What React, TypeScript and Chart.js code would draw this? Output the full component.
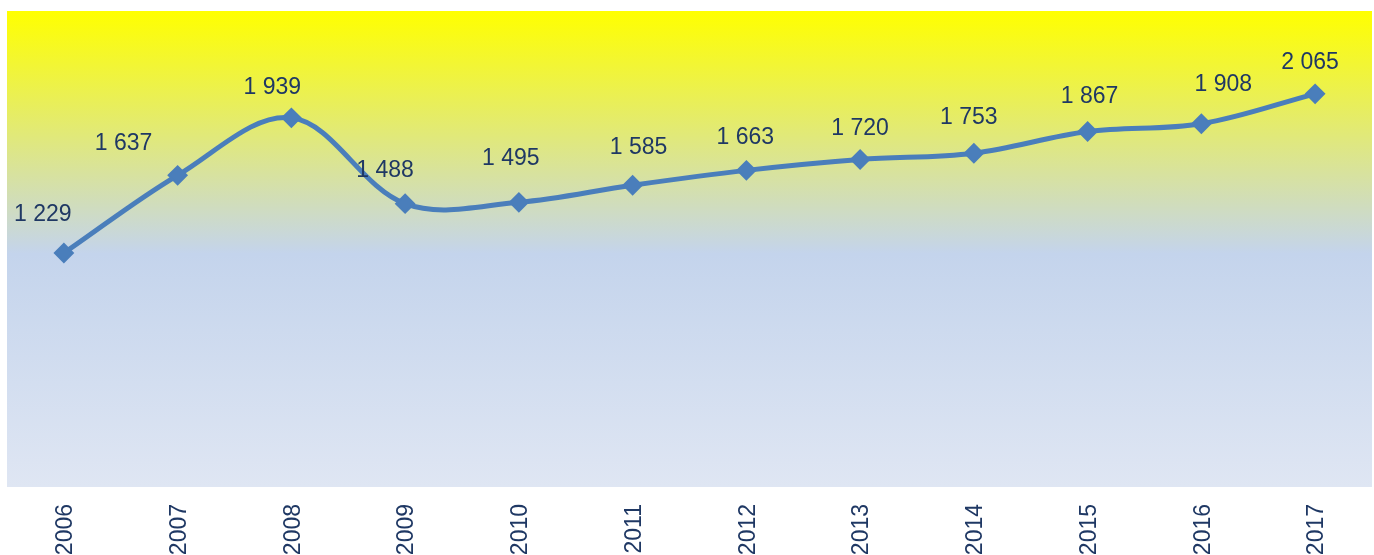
import React, { useEffect, useRef } from "react";
import { Chart, registerables } from "chart.js";

Chart.register(...registerables);

const years: string[] = ["2006", "2007", "2008", "2009", "2010", "2011", "2012", "2013", "2014", "2015", "2016", "2017"];
const values: number[] = [1229, 1637, 1939, 1488, 1495, 1585, 1663, 1720, 1753, 1867, 1908, 2065];
const valueLabels: string[] = ["1 229", "1 637", "1 939", "1 488", "1 495", "1 585", "1 663", "1 720", "1 753", "1 867", "1 908", "2 065"];

const TEXT_COLOR = "#1F3864";
const LINE_COLOR = "#4A7EBB";
const FONT_FAMILY = "'Liberation Sans', Arial, sans-serif";

// label nudges (dx, dy) relative to each point, as in the original manual label placement
const labelNudges: [number, number][] = [
  [-21, -38], [-54, -32], [-19, -30], [-20, -33], [-8, -44], [6, -38],
  [-1, -33], [0, -31], [-5, -36], [2, -35], [22, -39], [-5, -31],
];

const gradientBg = {
  id: "gradientBg",
  beforeDraw(chart: any) {
    const { ctx, chartArea } = chart;
    if (!chartArea) return;
    const g = ctx.createLinearGradient(0, chartArea.top, 0, chartArea.bottom);
    g.addColorStop(0, "#FFFF00");
    g.addColorStop(0.51, "#C4D4EC");
    g.addColorStop(1, "#DFE6F3");
    ctx.save();
    ctx.fillStyle = g;
    ctx.fillRect(chartArea.left, chartArea.top, chartArea.right - chartArea.left, chartArea.bottom - chartArea.top);
    ctx.restore();
  },
};

const valueLabelPlugin = {
  id: "valueLabelPlugin",
  afterDatasetsDraw(chart: any) {
    const { ctx } = chart;
    const meta = chart.getDatasetMeta(0);
    ctx.save();
    ctx.font = `23px ${FONT_FAMILY}`;
    ctx.fillStyle = TEXT_COLOR;
    ctx.textAlign = "center";
    ctx.textBaseline = "middle";
    meta.data.forEach((pt: any, i: number) => {
      const [dx, dy] = labelNudges[i] || [0, -34];
      ctx.fillText(valueLabels[i], pt.x + dx, pt.y + dy);
    });
    ctx.restore();
  },
};

export default function App() {
  const canvasRef = useRef<HTMLCanvasElement | null>(null);

  useEffect(() => {
    document.body.style.margin = "0";
    const canvas = canvasRef.current;
    if (!canvas) return;
    const chart = new Chart(canvas, {
      type: "line",
      data: {
        labels: years,
        datasets: [
          {
            data: values,
            borderColor: LINE_COLOR,
            backgroundColor: LINE_COLOR,
            borderWidth: 5,
            tension: 0.35,
            pointStyle: "rectRot",
            pointRadius: 9,
            pointBorderWidth: 2,
            pointBackgroundColor: LINE_COLOR,
            pointBorderColor: LINE_COLOR,
            fill: false,
            clip: false,
          },
        ],
      },
      options: {
        animation: false,
        responsive: true,
        maintainAspectRatio: false,
        layout: { autoPadding: false, padding: { left: 7, right: 2, top: 11, bottom: 0 } },
        plugins: {
          legend: { display: false },
          tooltip: { enabled: false },
          title: { display: false },
        },
        scales: {
          x: {
            offset: true,
            grid: { display: false },
            border: { display: false },
            afterFit(scale: any) {
              scale.height = 68;
              scale.paddingLeft = 0;
              scale.paddingRight = 0;
            },
            ticks: {
              autoSkip: false,
              minRotation: 90,
              maxRotation: 90,
              padding: 9,
              labelOffset: 2,
              color: TEXT_COLOR,
              font: { size: 23, family: FONT_FAMILY },
            },
          },
          y: {
            display: false,
            min: 0,
            max: 2500,
          },
        },
      },
      plugins: [gradientBg, valueLabelPlugin],
    });
    return () => chart.destroy();
  }, []);

  return (
    <div style={{ position: "relative", width: 1374, height: 555 }}>
      <canvas ref={canvasRef} />
    </div>
  );
}
